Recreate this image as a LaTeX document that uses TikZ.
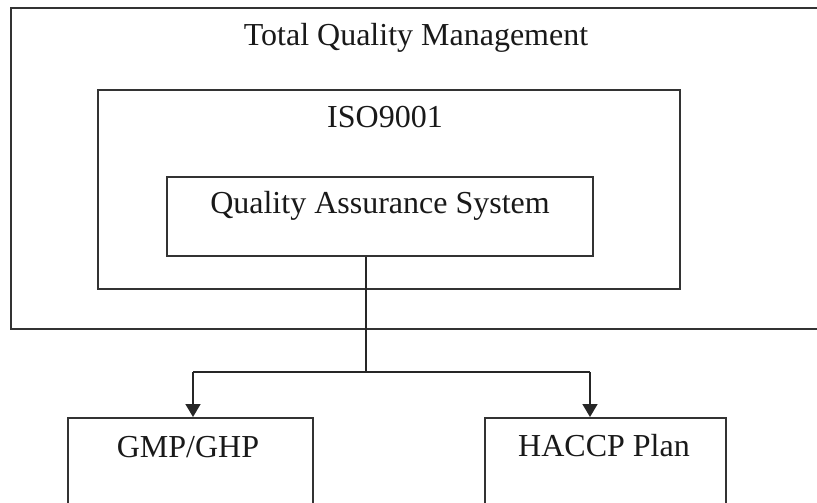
\documentclass[tikz,border=0pt]{standalone}
\usepackage{fontspec}
\setmainfont{Liberation Serif}
\usetikzlibrary{arrows.meta}
\begin{document}
\begin{tikzpicture}[x=1pt,y=-1pt,
  box/.style={draw=black!80,line width=1.7pt,inner sep=0pt,anchor=north west},
  lbl/.style={font=\fontsize{32}{38}\selectfont,anchor=base,inner sep=0pt,text=black!90},
  conn/.style={draw=black!85,line width=1.6pt},
  arr/.style={conn,-{Triangle[length=13pt,width=15pt]}}]
\useasboundingbox (0,0) rectangle (817,503);
\clip (0,0) rectangle (817,503);
\fill[white] (0,0) rectangle (817,503);
% boxes
\node[box,minimum width=840pt,minimum height=321pt] (outer) at (10,7) {};
\node[box,minimum width=582pt,minimum height=199pt] (iso) at (97,89) {};
\node[box,minimum width=426pt,minimum height=79pt] (qas) at (166,176) {};
\node[box,minimum width=245pt,minimum height=120pt] (gmp) at (67,417) {};
\node[box,minimum width=241pt,minimum height=120pt] (haccp) at (484,417) {};
% labels
\node[lbl] (tqmt) at (416,46) {Total Quality Management};
\node[lbl] (isot) at (385,127) {ISO9001};
\node[lbl] (qast) at (380,213) {Quality Assurance System};
\node[lbl] (gmpt) at (188,457) {GMP/GHP};
\node[lbl] (haccpt) at (604,456) {HACCP Plan};
% connectors
\coordinate (j) at (366,372);
\coordinate (a1) at (193,372);
\coordinate (a2) at (590,372);
\draw[conn] (qas.south -| j) -- (j);
\draw[conn] (a1) -- (a2);
\draw[arr] (a1) -- (a1 |- gmp.north);
\draw[arr] (a2) -- (a2 |- haccp.north);
\end{tikzpicture}
\end{document}
